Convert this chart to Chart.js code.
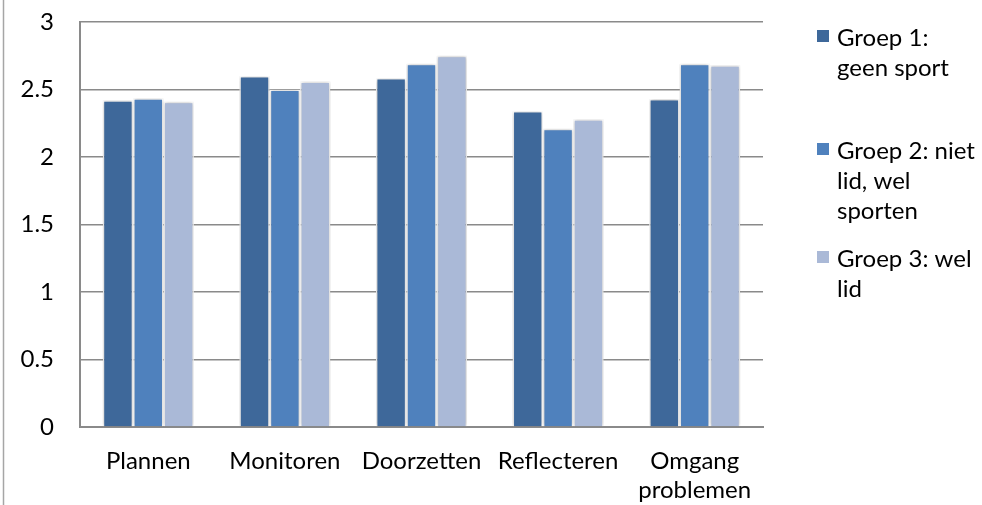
<!DOCTYPE html>
<html>
<head>
<meta charset="utf-8">
<script src="https://cdn.jsdelivr.net/npm/chart.js@4.4.1/dist/chart.umd.min.js"></script>
<style>
  html, body { margin: 0; padding: 0; background: #ffffff; }
  #wrap { width: 982px; height: 505px; position: relative; }
</style>
</head>
<body>
<div id="wrap"><canvas id="c" width="982" height="505"></canvas></div>
<script>
const categories = ['Plannen', 'Monitoren', 'Doorzetten', 'Reflecteren', ['Omgang', 'problemen']];
const seriesNames = ['Groep 1: geen sport', 'Groep 2: niet lid, wel sporten', 'Groep 3: wel lid'];
const legendLines = [['Groep 1:', 'geen sport'], ['Groep 2: niet', 'lid, wel', 'sporten'], ['Groep 3: wel', 'lid']];
const groep1 = [2.42, 2.60, 2.585, 2.34, 2.43];
const groep2 = [2.435, 2.50, 2.69, 2.21, 2.69];
const groep3 = [2.41, 2.56, 2.75, 2.28, 2.68];
const yTicks = [0, 0.5, 1, 1.5, 2, 2.5, 3];
const colors = ['#3E689A', '#4F81BD', '#AAB9D7'];

const FONT = 'Lato';

const shadowPlugin = {
  id: 'barShadow',
  beforeDatasetsDraw(chart) {
    const ctx = chart.ctx;
    ctx.save();
    ctx.shadowColor = 'rgba(0,0,0,0.28)';
    ctx.shadowBlur = 4;
    ctx.shadowOffsetX = 0;
    ctx.shadowOffsetY = 0;
  },
  afterDatasetsDraw(chart) {
    chart.ctx.restore();
  }
};

const legendPlugin = {
  id: 'sideLegend',
  afterDraw(chart) {
    const ctx = chart.ctx;
    ctx.save();
    ctx.strokeStyle = '#a6a6a6';
    ctx.lineWidth = 1.5;
    ctx.beginPath();
    ctx.moveTo(3.5, 0);
    ctx.lineTo(3.5, chart.height);
    ctx.stroke();

    const firstBaselines = [46, 159, 267];
    const lh = 30;
    ctx.font = '24px ' + FONT;
    ctx.textBaseline = 'alphabetic';
    ctx.textAlign = 'left';
    chart.data.datasets.forEach((ds, i) => {
      const b = firstBaselines[i];
      ctx.fillStyle = ds.backgroundColor;
      ctx.fillRect(817, b - 16, 12, 12);
      ctx.fillStyle = '#000000';
      legendLines[i].forEach((line, j) => {
        ctx.fillText(line, 837, b + j * lh);
      });
    });
    ctx.restore();
  }
};

const gridColor = '#8a8a8a';

new Chart(document.getElementById('c'), {
  type: 'bar',
  data: {
    labels: categories,
    datasets: [
      { label: seriesNames[0], data: groep1, backgroundColor: colors[0] },
      { label: seriesNames[1], data: groep2, backgroundColor: colors[1] },
      { label: seriesNames[2], data: groep3, backgroundColor: colors[2] }
    ].map(d => Object.assign(d, {
      borderColor: '#ffffff',
      borderWidth: 1.5,
      barPercentage: 1.0,
      categoryPercentage: 0.667
    }))
  },
  options: {
    responsive: false,
    animation: false,
    devicePixelRatio: 1,
    layout: { padding: { left: 0, right: 219, top: 22, bottom: 0 } },
    plugins: {
      legend: { display: false },
      tooltip: { enabled: false }
    },
    scales: {
      x: {
        grid: { display: false, drawTicks: false },
        border: { display: true, color: gridColor, width: 2 },
        ticks: {
          color: '#000000',
          font: { family: FONT, size: 24, lineHeight: 1.2 },
          padding: 20,
          maxRotation: 0,
          autoSkip: false
        },
        afterFit(scale) { scale.height = 78; }
      },
      y: {
        min: 0,
        max: 3,
        afterBuildTicks(scale) { scale.ticks = yTicks.map(v => ({ value: v })); },
        grid: { color: gridColor, lineWidth: 1.5, drawTicks: false },
        border: { display: true, color: gridColor, width: 2 },
        ticks: {
          color: '#000000',
          font: { family: FONT, size: 24 },
          padding: 26,
          callback: v => String(v)
        },
        afterFit(scale) {
          scale.width = 80;
          scale.paddingTop = 14;
          scale.paddingBottom = 14;
        }
      }
    }
  },
  plugins: [shadowPlugin, legendPlugin]
});
</script>
</body>
</html>
